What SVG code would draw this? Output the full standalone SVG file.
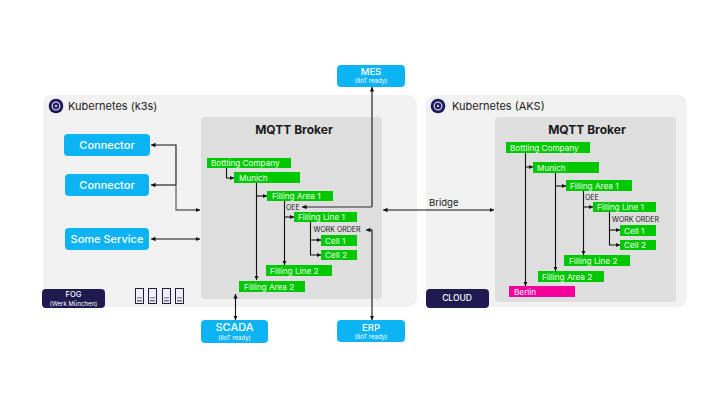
<svg xmlns="http://www.w3.org/2000/svg" width="720" height="405" viewBox="0 0 720 405">
<style>
text{font-family:Inter,"Noto Sans","Liberation Sans",sans-serif}
.panel{fill:#f1f1f1}
.inner{fill:#dedede}
.blue{fill:#0db4f3}
.navy{fill:#1f1a4f}
.g{fill:#00c800}
.gt{fill:#f2fff2;font-size:8.200px}
.bt{fill:#fff;font-size:11px;font-weight:500;text-anchor:middle}
.bs{fill:#fff;font-size:6px;text-anchor:middle}
.lab{fill:#1a1a1a;font-size:7px}
.h{fill:#1a1a1a;font-size:12px;font-weight:700;text-anchor:middle}
.k{fill:#222;font-size:11px}
.c{fill:none;stroke:#111;stroke-width:1.100}
.cg{fill:none;stroke:#666;stroke-width:1.300}
.srv{fill:#f0f0f4;stroke:#1f1a4f;stroke-width:1}
</style>
<defs>
<marker id="a" markerUnits="userSpaceOnUse" markerWidth="6" markerHeight="6" refX="4.500" refY="3" orient="auto-start-reverse"><path d="M0 0.800L4.500 3L0 5.200z" fill="#111"/></marker>
<g id="kube"><circle r="7.300" fill="#1f1a5c"/><circle r="3.800" fill="none" stroke="#c9c6e6" stroke-width="1.300"/><circle r="1.200" fill="#c9c6e6"/></g>
<g id="server"><rect x="0.500" y="0.500" width="8" height="15" class="srv"/><rect x="2" y="9" width="5" height="1.500" fill="#9a98a8"/><rect x="2" y="12" width="5" height="1.500" fill="#77758a"/></g>
</defs>

<g id="k3s">
<rect class="panel" x="43" y="95" width="374" height="212" rx="9"/>
<use href="#kube" x="56" y="106"/>
<text class="k" x="68" y="110">Kubernetes (k3s)</text>
</g>
<g id="aks">
<rect class="panel" x="426" y="95" width="261" height="212" rx="9"/>
<use href="#kube" x="438" y="106"/>
<text class="k" x="452" y="110">Kubernetes (AKS)</text>
</g>
<g id="broker-left">
<rect class="inner" x="201" y="117" width="181" height="182" rx="4"/>
<text class="h" x="294" y="134">MQTT Broker</text>
</g>
<g id="broker-right">
<rect class="inner" x="495" y="117" width="181" height="185" rx="4"/>
<text class="h" x="587" y="134">MQTT Broker</text>
</g>

<g id="connectors">
<path class="c" marker-start="url(#a)" d="M151 145H176V185"/>
<path class="c" marker-start="url(#a)" d="M151 185H176"/>
<path class="cg" d="M176 185V210H197"/>
<path class="c" marker-end="url(#a)" d="M196 210H200"/>
<path class="c" marker-start="url(#a)" marker-end="url(#a)" d="M151 239H200"/>
<path class="c" marker-start="url(#a)" marker-end="url(#a)" d="M383 210H494"/>
<path class="c" marker-end="url(#a)" d="M372 207V87"/>
<path class="cg" d="M372 207H306"/>
<path class="c" marker-end="url(#a)" d="M307 207H302"/>
<path class="c" marker-start="url(#a)" marker-end="url(#a)" d="M366 230H372V320"/>
<path class="c" marker-start="url(#a)" marker-end="url(#a)" d="M235.500 294V320"/>
<path class="c" marker-end="url(#a)" d="M226.500 168V178H234"/>
<path class="c" marker-end="url(#a)" d="M256.500 183V280"/>
<path class="c" marker-end="url(#a)" d="M256.500 196H267"/>
<path class="c" marker-end="url(#a)" d="M284.500 201V265"/>
<path class="c" marker-end="url(#a)" d="M284.500 217H294"/>
<path class="c" marker-end="url(#a)" d="M310.500 222V255H321"/>
<path class="c" marker-end="url(#a)" d="M310.500 240H321"/>
<path class="c" marker-end="url(#a)" d="M525.500 153V286"/>
<path class="c" marker-end="url(#a)" d="M525.500 167H533"/>
<path class="c" marker-end="url(#a)" d="M555.500 173V271"/>
<path class="c" marker-end="url(#a)" d="M555.500 186H566"/>
<path class="c" marker-end="url(#a)" d="M583.500 191V255"/>
<path class="c" marker-end="url(#a)" d="M583.500 207H593"/>
<path class="c" marker-end="url(#a)" d="M609.500 212V245H620"/>
<path class="c" marker-end="url(#a)" d="M609.500 230H620"/>
</g>
<text class="lab" x="429" y="206" style="font-size:9.500px" id="bridge-label">Bridge</text>

<g id="connector-1"><rect class="blue" x="64" y="134" width="86" height="22" rx="4"/><text class="bt" x="107" y="149">Connector</text></g>
<g id="connector-2"><rect class="blue" x="65" y="174" width="84" height="22" rx="4"/><text class="bt" x="107" y="189">Connector</text></g>
<g id="some-service"><rect class="blue" x="65" y="228" width="84" height="22" rx="4"/><text class="bt" x="107" y="243">Some Service</text></g>
<g id="mes"><rect class="blue" x="337" y="65" width="68" height="22" rx="4"/><text class="bt" x="371" y="74.500" style="font-size:9.500px">MES</text><text class="bs" x="371" y="83">(IIoT ready)</text></g>
<g id="scada"><rect class="blue" x="201" y="320" width="67" height="23" rx="4"/><text class="bt" x="234.500" y="331">SCADA</text><text class="bs" x="234.500" y="339.500">(IIoT ready)</text></g>
<g id="erp"><rect class="blue" x="337" y="320" width="68" height="22" rx="4"/><text class="bt" x="371" y="330.500" style="font-size:9.500px">ERP</text><text class="bs" x="371" y="339">(IIoT ready)</text></g>
<g id="fog"><rect class="navy" x="42" y="289" width="63" height="19" rx="4"/><text class="bt" x="73.500" y="297" style="font-size:7.500px">FOG</text><text class="bs" x="73.500" y="305.500">(Werk München)</text></g>
<g id="cloud"><rect class="navy" x="426" y="289" width="63" height="19" rx="4"/><text class="bt" x="457" y="301" style="font-size:8.500px">CLOUD</text></g>
<g id="servers">
<use href="#server" x="135" y="288"/><use href="#server" x="148" y="288"/><use href="#server" x="162" y="288"/><use href="#server" x="175" y="288"/>
</g>

<g id="l-bottling"><rect class="g" x="207" y="158" width="84" height="10"/><text class="gt" x="211" y="166">Bottling Company</text></g>
<g id="l-munich"><rect class="g" x="234" y="172" width="66" height="11"/><text class="gt" x="239" y="181">Munich</text></g>
<g id="l-area1"><rect class="g" x="267" y="191" width="66" height="10"/><text class="gt" x="272" y="199">Filling Area 1</text></g>
<g id="l-line1"><rect class="g" x="294" y="212" width="63" height="10"/><text class="gt" x="298" y="220">Filling Line 1</text></g>
<g id="l-cell1"><rect class="g" x="321" y="235" width="36" height="11"/><text class="gt" x="325" y="243.500">Cell 1</text></g>
<g id="l-cell2"><rect class="g" x="321" y="250" width="36" height="10"/><text class="gt" x="325" y="258">Cell 2</text></g>
<g id="l-line2"><rect class="g" x="266" y="265" width="66" height="11"/><text class="gt" x="270" y="274">Filling Line 2</text></g>
<g id="l-area2"><rect class="g" x="239" y="281" width="66" height="11"/><text class="gt" x="244" y="290">Filling Area 2</text></g>
<text class="lab" x="286" y="209.500">OEE</text>
<text class="lab" x="313.500" y="232">WORK ORDER</text>

<g id="r-bottling"><rect class="g" x="506" y="142" width="84" height="11"/><text class="gt" x="510" y="151">Bottling Company</text></g>
<g id="r-munich"><rect class="g" x="533" y="162" width="66" height="11"/><text class="gt" x="537" y="171">Munich</text></g>
<g id="r-area1"><rect class="g" x="566" y="180" width="66" height="11"/><text class="gt" x="570" y="189">Filling Area 1</text></g>
<g id="r-line1"><rect class="g" x="593" y="202" width="63" height="10"/><text class="gt" x="597" y="210">Filling Line 1</text></g>
<g id="r-cell1"><rect class="g" x="620" y="225" width="36" height="11"/><text class="gt" x="624" y="233.500">Cell 1</text></g>
<g id="r-cell2"><rect class="g" x="620" y="240" width="36" height="10"/><text class="gt" x="624" y="248">Cell 2</text></g>
<g id="r-line2"><rect class="g" x="564" y="255" width="66" height="11"/><text class="gt" x="569" y="264">Filling Line 2</text></g>
<g id="r-area2"><rect class="g" x="538" y="271" width="66" height="11"/><text class="gt" x="542" y="280">Filling Area 2</text></g>
<g id="r-berlin"><rect x="509" y="286" width="66" height="11" fill="#f4009a"/><text class="gt" x="514" y="295" style="fill:#fff">Berlin</text></g>
<text class="lab" x="585" y="199.500">OEE</text>
<text class="lab" x="612" y="221.500">WORK ORDER</text>
</svg>
